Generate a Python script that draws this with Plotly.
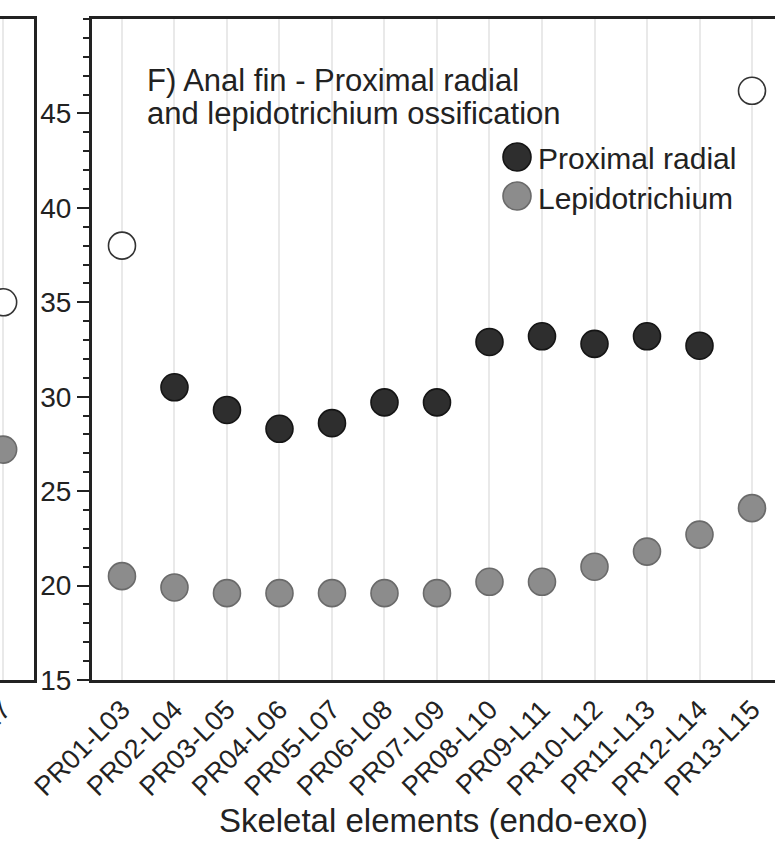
import plotly.graph_objects as go

# anal fin pairs (endo-exo)
elements = ["PR01-L03", "PR02-L04", "PR03-L05", "PR04-L06", "PR05-L07", "PR06-L08", "PR07-L09",
            "PR08-L10", "PR09-L11", "PR10-L12", "PR11-L13", "PR12-L14", "PR13-L15"]
proximal_radial = [None, 30.5, 29.3, 28.3, 28.6, 29.7, 29.7, 32.9, 33.2, 32.8, 33.2, 32.7, None]
lepidotrichium = [20.5, 19.9, 19.6, 19.6, 19.6, 19.6, 19.6, 20.2, 20.2, 21.0, 21.8, 22.7, 24.1]
open_x = ["PR01-L03", "PR13-L15"]
open_y = [38.0, 46.2]

# neighbouring panel (cut off on the left)
prev_elements = ["PR15-L17"]
prev_open = [35.0]
prev_lepi = [27.2]

DARK = "#2e2e2e"
GREY = "#8c8c8c"
FONT = "Liberation Sans, Arial, sans-serif"

fig = go.Figure()

def dots(x, y, fill, line, xa="x", ya="y", name=""):
    fig.add_trace(go.Scatter(
        x=x, y=y, mode="markers", name=name, xaxis=xa, yaxis=ya, showlegend=False,
        marker=dict(size=27, color=fill, line=dict(color=line, width=1.6))))

dots(elements, proximal_radial, DARK, "#151515", name="Proximal radial")
dots(elements, lepidotrichium, GREY, "#6a6a6a", name="Lepidotrichium")
dots(open_x, open_y, "white", "#333333")
dots(prev_elements, prev_open, "white", "#333333", "x2", "y2")
dots(prev_elements, prev_lepi, GREY, "#6a6a6a", "x2", "y2")

axis_line = dict(showline=True, linecolor="#222222", linewidth=3, automargin=False)
grid = dict(showgrid=True, gridcolor="#e9e9e9", gridwidth=2, zeroline=False)

fig.update_layout(
    width=775, height=855,
    margin=dict(l=0, r=0, t=19, b=175),
    paper_bgcolor="white", plot_bgcolor="white",
    font=dict(family=FONT, color="#222222"),
    xaxis=dict(domain=[92 / 775, 1], type="category", categoryorder="array", categoryarray=elements,
               range=[-0.571, 12.438], tickangle=-45, ticks="", tickfont=dict(size=27),
               mirror=True, anchor="y",
               title=dict(text="Skeletal elements (endo-exo)", font=dict(size=33), standoff=8),
               **axis_line, **grid),
    yaxis=dict(range=[15, 50], tickvals=[15, 20, 25, 30, 35, 40, 45], ticks="outside",
               ticklen=12, tickwidth=2, tickcolor="#222222", tickfont=dict(size=28),
               minor=dict(dtick=1, ticks="outside", ticklen=6, tickwidth=2, tickcolor="#222222"),
               showgrid=False, zeroline=False, anchor="x", **axis_line),
    xaxis2=dict(domain=[0, 34 / 775], type="category", range=[-0.06, 0.588], tickangle=-45,
                ticks="", tickfont=dict(size=27), mirror=True, anchor="y2", **axis_line, **grid),
    yaxis2=dict(range=[15, 50], side="right", showticklabels=False, ticks="", showgrid=False,
                zeroline=False, anchor="x2", **axis_line),
)

def py(pix):
    # pixel row -> paper y (plot area spans rows 19..680)
    return (680 - pix) / 661

# panel label
for txt, yp in [("F) Anal fin - Proximal radial", 80), ("and lepidotrichium ossification", 114)]:
    fig.add_annotation(text=txt, xref="paper", yref="paper", x=145 / 775, y=py(yp),
                       xanchor="left", yanchor="middle", showarrow=False, font=dict(size=31))

# legend drawn by hand so the keys keep the marker size
for name, fill, line, yp in [("Proximal radial", DARK, "#151515", 157),
                             ("Lepidotrichium", GREY, "#6a6a6a", 196)]:
    fig.add_shape(type="circle", xref="paper", yref="paper", xsizemode="pixel", ysizemode="pixel",
                  xanchor=517 / 775, yanchor=py(yp), x0=-14, x1=14, y0=-14, y1=14,
                  fillcolor=fill, line=dict(color=line, width=1.6))
    fig.add_annotation(text=name, xref="paper", yref="paper", x=536 / 775, y=py(yp + 2),
                       xanchor="left", yanchor="middle", showarrow=False, font=dict(size=30))

fig.write_html("out.html", config={"displayModeBar": False},
               post_script="document.body.style.margin='0';")
